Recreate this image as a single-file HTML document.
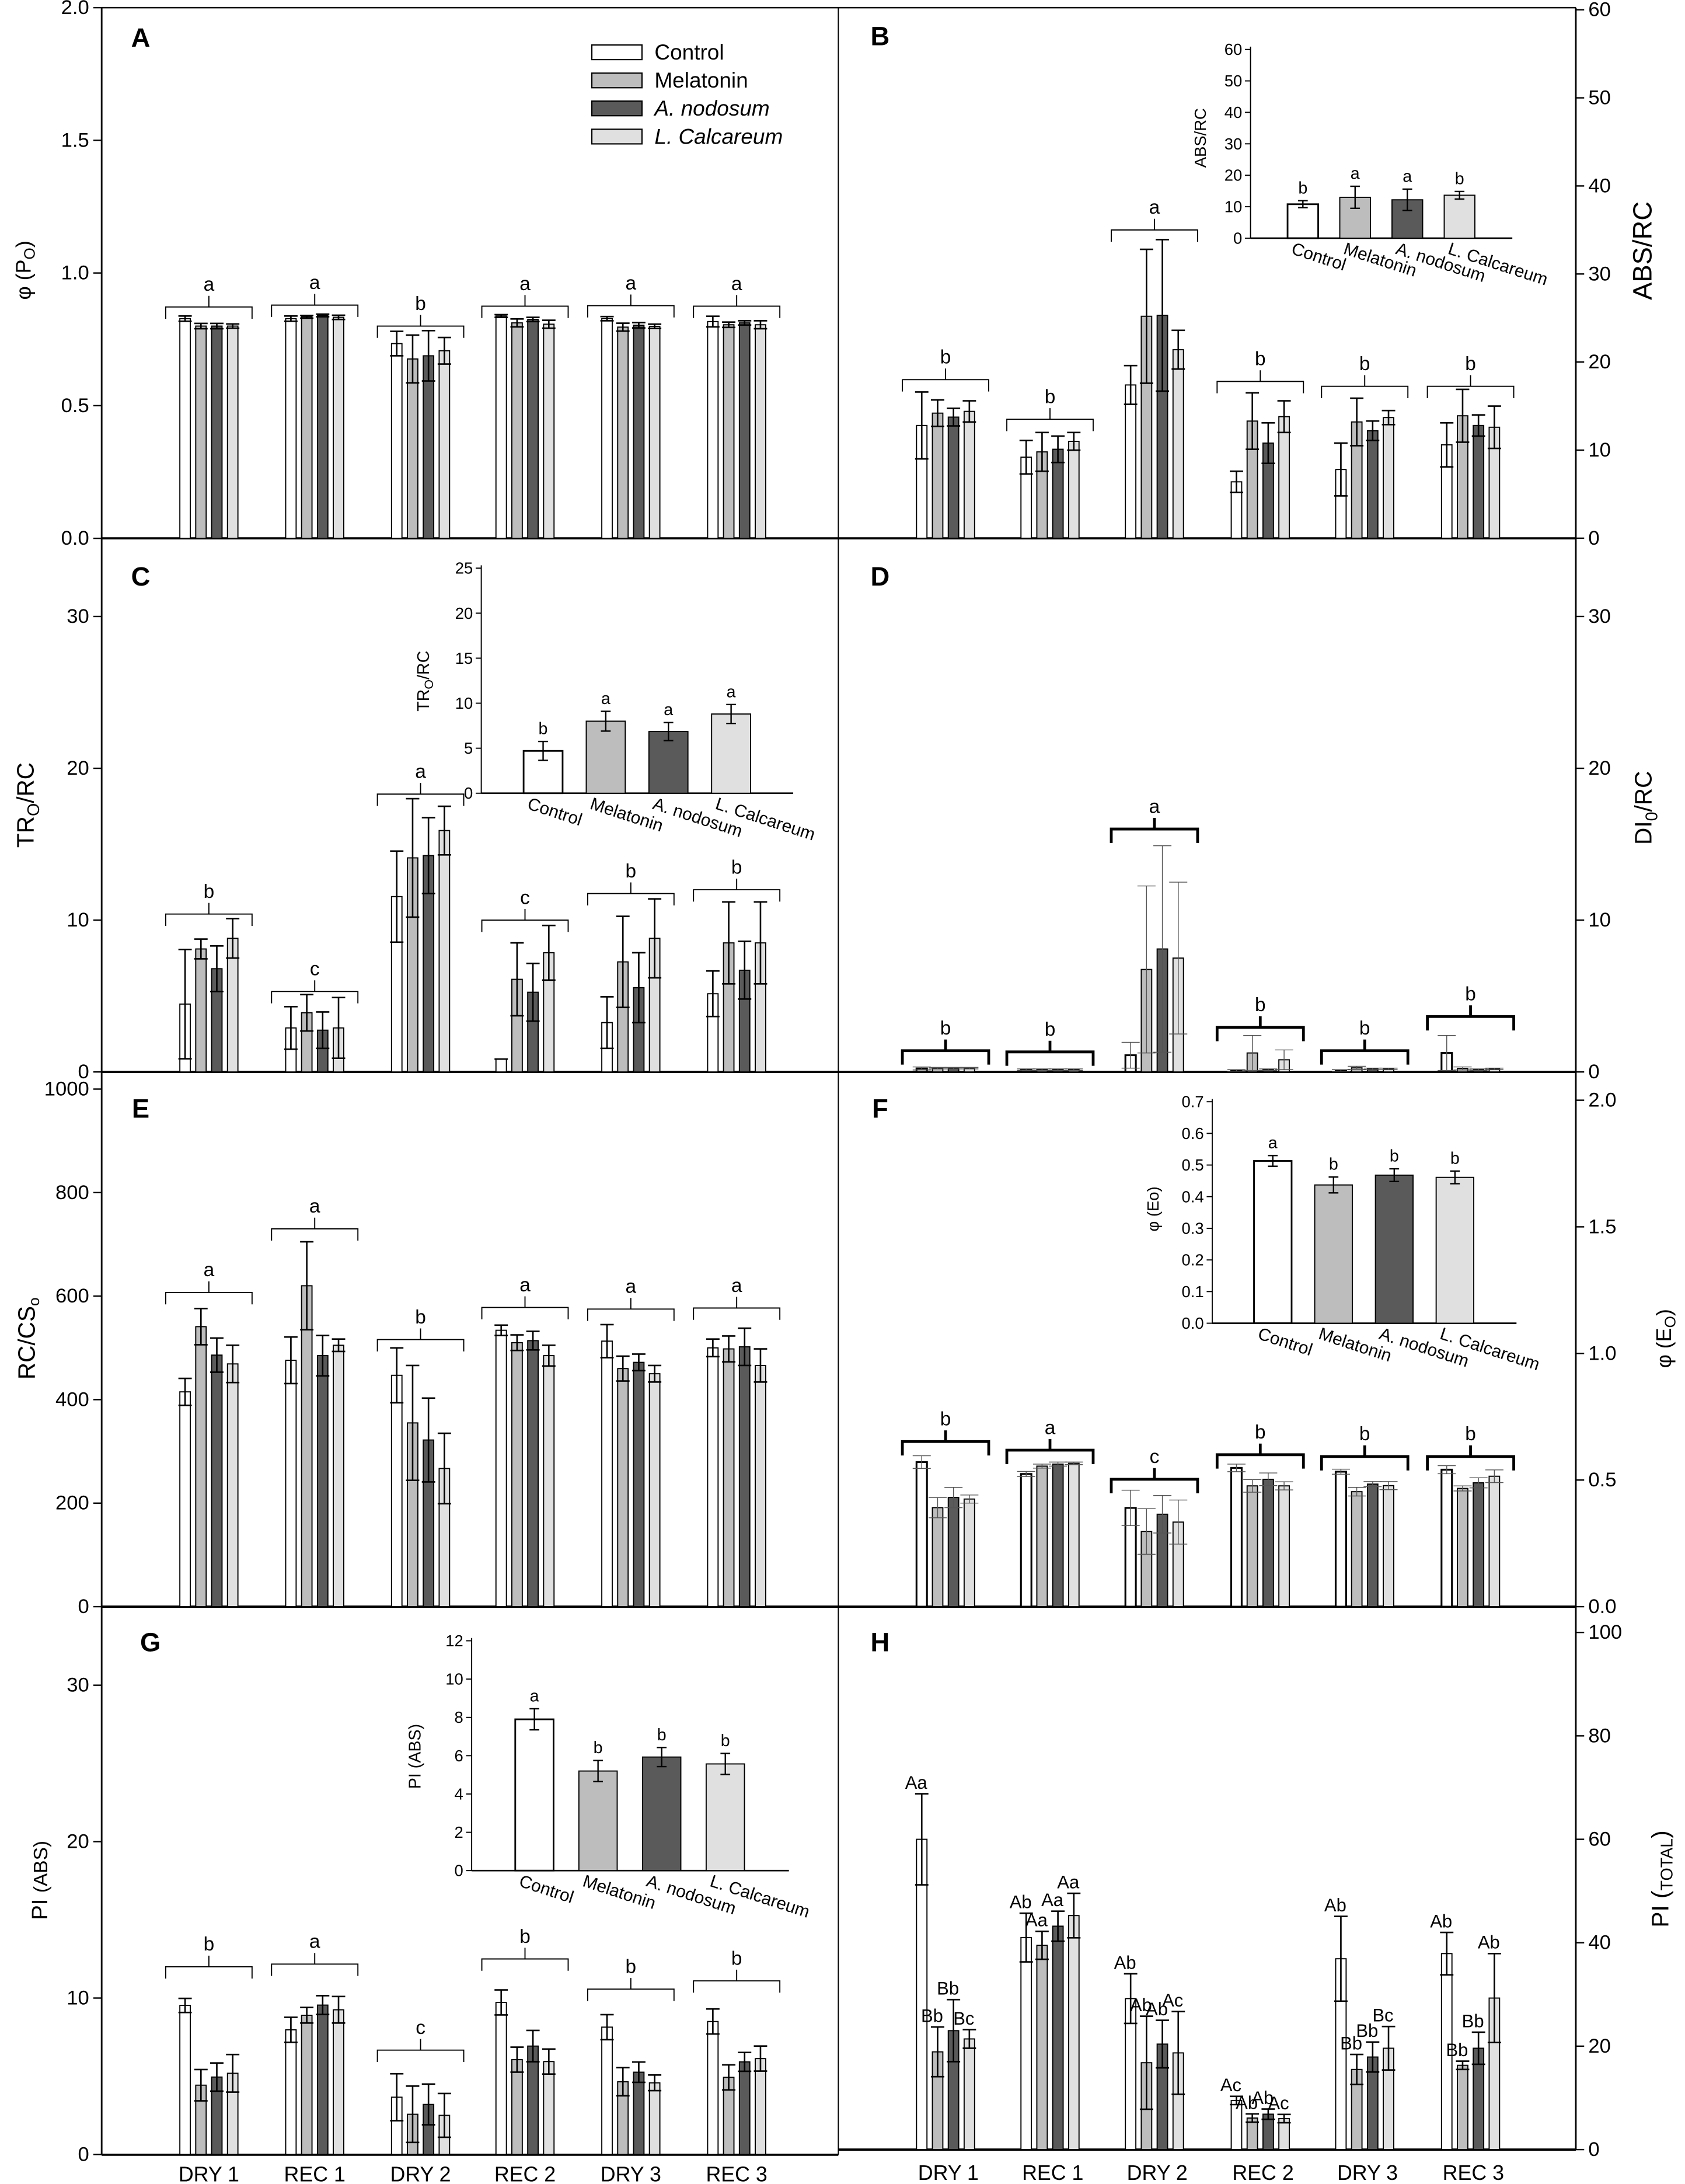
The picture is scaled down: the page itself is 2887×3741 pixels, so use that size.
<!DOCTYPE html>
<html><head><meta charset="utf-8"><title>Chlorophyll fluorescence parameters</title>
<style>
html,body{margin:0;padding:0;background:#fff;}
svg{display:block;font-family:"Liberation Sans Narrow","Liberation Sans",sans-serif;}
</style></head>
<body>
<svg id="chart" xmlns="http://www.w3.org/2000/svg" width="2887" height="3741" viewBox="0 0 1210 1568" preserveAspectRatio="none">
<rect x="0" y="0" width="1210" height="1568" fill="#fff"/>
</svg>
<script>
// ---------- shared categories ----------
const groups = ["DRY 1","REC 1","DRY 2","REC 2","DRY 3","REC 3"];
const treatments = ["Control","Melatonin","A. nodosum","L. Calcareum"];

// ---------- Panel A ----------
const aTicks = ["0.0","0.5","1.0","1.5","2.0"];
const aMean = [[0.828,0.828,0.734,0.838,0.828,0.817],[0.80,0.835,0.676,0.812,0.796,0.805],[0.80,0.84,0.688,0.825,0.803,0.812],[0.80,0.833,0.707,0.807,0.799,0.805]];
const aErr = [[0.01,0.01,0.046,0.005,0.008,0.02],[0.01,0.005,0.09,0.015,0.015,0.01],[0.01,0.005,0.095,0.008,0.01,0.008],[0.008,0.008,0.05,0.015,0.008,0.015]];
const aBracket = [0.872,0.879,0.80,0.875,0.877,0.875];
const aLetters = ["a","a","b","a","a","a"];

// ---------- Panel B ----------
const bTicks = ["0","10","20","30","40","50","60"];
const bMean = [[12.8,9.2,17.4,6.4,7.8,10.6],[14.2,9.8,25.2,13.3,13.2,13.9],[13.75,10.1,25.3,10.8,12.2,12.8],[14.4,11.0,21.4,13.8,13.7,12.6]];
const bErr = [[3.8,1.9,2.2,1.2,3.0,2.5],[1.5,2.2,7.6,3.2,2.7,3.0],[1.0,1.5,8.6,2.3,1.1,1.2],[1.2,1.0,2.2,1.8,0.8,2.4]];
const bBracket = [18,13.5,35,17.8,17.25,17.25];
const bLetters = ["b","b","a","b","b","b"];
const bInsetTicks = ["0","10","20","30","40","50","60"];
const bInsetMean = [10.8,13.0,12.2,13.65];
const bInsetErr = [1.1,3.5,3.4,1.2];
const bInsetLetters = ["b","a","a","b"];

// ---------- Panel C ----------
const cTicks = ["0","10","20","30"];
const cMean = [[4.47,2.9,11.55,0.85,3.25,5.15],[8.1,3.9,14.1,6.1,7.25,8.5],[6.8,2.75,14.25,5.25,5.55,6.7],[8.8,2.9,15.9,7.85,8.8,8.5]];
const cErr = [[3.6,1.4,3.0,0,1.7,1.5],[0.65,1.2,3.9,2.4,3.0,2.7],[1.5,1.2,2.5,1.9,2.3,1.9],[1.3,2.0,1.6,1.8,2.6,2.7]];
const cBracket = [10.4,5.3,18.3,10.0,11.75,12.0];
const cLetters = ["b","c","a","c","b","b"];
const cInsetTicks = ["0","5","10","15","20","25"];
const cInsetMean = [4.7,8.0,6.85,8.8];
const cInsetErr = [1.05,1.1,1.0,1.05];
const cInsetLetters = ["b","a","a","a"];

// ---------- Panel D ----------
const dTicks = ["0","10","20","30"];
const dMean = [[0.23,0.15,1.1,0.1,0.1,1.25],[0.25,0.15,6.75,1.25,0.27,0.23],[0.25,0.15,8.1,0.15,0.2,0.15],[0.25,0.15,7.5,0.8,0.2,0.2]];
const dErr = [[0.1,0.05,0.85,0.05,0.05,1.15],[0.05,0.05,5.5,1.15,0.1,0.1],[0.05,0.05,6.8,0.05,0.05,0.05],[0.05,0.05,5.0,0.65,0.05,0.05]];
const dBracket = [1.4,1.32,16,2.94,1.4,3.65];
const dLetters = ["b","b","a","b","b","b"];

// ---------- Panel E ----------
const eTicks = ["0","200","400","600","800","1000"];
const eMean = [[415,476,447,534,513,500],[541,620,355,510,460,498],[486,485,322,514,472,502],[469,505,267,485,450,466]];
const eErr = [[26,45,53,10,32,17],[35,85,111,15,24,25],[33,39,81,18,16,36],[36,12,68,20,16,32]];
const eBracket = [607,730,516,578,575,577];
const eLetters = ["a","a","b","a","a","a"];

// ---------- Panel F ----------
const fTicks = ["0.0","0.5","1.0","1.5","2.0"];
const fMean = [[0.571,0.524,0.39,0.548,0.533,0.541],[0.391,0.555,0.297,0.477,0.454,0.467],[0.431,0.563,0.365,0.503,0.484,0.489],[0.425,0.566,0.334,0.477,0.478,0.515]];
const fErr = [[0.025,0.01,0.07,0.015,0.01,0.016],[0.04,0.008,0.09,0.025,0.017,0.01],[0.04,0.008,0.074,0.025,0.01,0.02],[0.016,0.005,0.087,0.016,0.016,0.025]];
const fBracket = [0.652,0.618,0.503,0.60,0.593,0.593];
const fLetters = ["b","a","c","b","b","b"];
const fInsetTicks = ["0.0","0.1","0.2","0.3","0.4","0.5","0.6","0.7"];
const fInsetMean = [0.513,0.437,0.468,0.461];
const fInsetErr = [0.017,0.025,0.02,0.02];
const fInsetLetters = ["a","b","b","b"];

// ---------- Panel G ----------
const gTicks = ["0","10","20","30"];
const gMean = [[9.53,7.97,3.66,9.72,8.14,8.5],[4.43,8.9,2.57,6.06,4.65,4.93],[4.95,9.55,3.2,6.93,5.26,5.92],[5.19,9.25,2.5,5.94,4.58,6.13]];
const gErr = [[0.45,0.8,1.5,0.8,0.8,0.8],[1.0,0.5,1.8,0.8,0.9,0.8],[0.9,0.6,1.3,1.0,0.65,0.6],[1.2,0.85,1.4,0.8,0.5,0.8]];
const gBracket = [12.0,12.17,6.67,12.5,10.57,11.1];
const gLetters = ["b","a","c","b","b","b"];
const gInsetTicks = ["0","2","4","6","8","10","12"];
const gInsetMean = [7.9,5.2,5.93,5.57];
const gInsetErr = [0.55,0.55,0.5,0.55];
const gInsetLetters = ["a","b","b","b"];

// ---------- Panel H ----------
const hTicks = ["0","20","40","60","80","100"];
const hMean = [[60,41,29.2,9.5,36.9,37.9],[18.9,39.5,16.8,6.1,15.5,16.3],[23,43.2,20.4,6.85,17.9,19.6],[21.4,45.25,18.7,6.0,19.6,29.3]];
const hErr = [[8.8,4.7,4.8,0.8,8.2,4.1],[4.8,2.7,9,0.8,2.9,0.8],[6.0,2.9,4.6,1.0,2.9,3.1],[1.8,4.3,8,0.8,4.2,8.6]];
const hLabels = [["Aa","Ab","Ab","Ac","Ab","Ab"],["Bb","Aa","Ab","Ab","Bb","Bb"],["Bb","Aa","Ab","Ab","Bb","Bb"],["Bc","Aa","Ac","Ac","Bc","Ab"]];

// ---------- drawing ----------
const NS = "http://www.w3.org/2000/svg";
const svg = document.getElementById("chart");
const FILLS = ["#ffffff","#bdbdbd","#5a5a5a","#e0e0e0"];
const LEFT_CENTERS = [150,226,302,377,453,529];
const RIGHT_CENTERS = [679,754,829,905,980,1056];
const PITCH = 11.4, BW = 7.5;

function mk(tag, attrs, parent) {
  const e = document.createElementNS(NS, tag);
  for (const k in attrs) e.setAttribute(k, attrs[k]);
  (parent || svg).appendChild(e);
  return e;
}
function txt(parent, x, y, s, attrs) {
  const t = mk("text", Object.assign({x: x, y: y}, attrs || {}), parent);
  t.textContent = s;
  return t;
}

function drawPanel(p) {
  const g = mk("g", {});
  
  
  const ys = v => p.zero - v * p.ppu;
  // axis line
  const ax = mk("line", {x1: p.axisX, y1: p.top, x2: p.axisX, y2: p.zero, stroke: "#000", "stroke-width": 1.2}, g);
  
  
  // ticks
  p.ticks.forEach(lbl => {
    const v = parseFloat(lbl); const y = ys(v);
    const dir = p.side === "left" ? -1 : 1;
    mk("line", {x1: p.axisX, y1: y, x2: p.axisX + dir * 6, y2: y, stroke: "#000", "stroke-width": 1}, g);
    const t = txt(g, p.axisX + dir * 9, y, lbl, {"font-size": 14.5, "text-anchor": p.side === "left" ? "end" : "start", "dominant-baseline": "central"});
    
    
  });
  // bars
  for (let i = 0; i < 4; i++) {
    for (let j = 0; j < 6; j++) {
      const v = p.mean[i][j], e = p.err[i][j];
      const cx = p.centers[j] + (i - 1.5) * PITCH;
      const y = ys(v);
      const r = mk("rect", {x: cx - BW / 2, y: y, width: BW, height: p.zero - y, fill: FILLS[i], stroke: "#000", "stroke-width": (p.thin && i === 0) ? 1.3 : 0.8}, g);
      
      
      const col = p.thin ? "#555" : "#000", sw = p.thin ? 0.6 : 1.1, cw = p.thin ? 6.5 : 4.8;
      const yu = ys(v + e), yl = ys(Math.max(0, v - e));
      const eb = mk("path", {d: "M" + cx + "," + yl + "L" + cx + "," + yu + "M" + (cx - cw) + "," + yu + "L" + (cx + cw) + "," + yu + "M" + (cx - cw) + "," + yl + "L" + (cx + cw) + "," + yl, stroke: col, "stroke-width": sw, fill: "none"}, g);
      
      
      if (p.labels) {
        const lt = txt(g, cx - 4, yu - 8, p.labels[i][j], {"font-size": 13, "text-anchor": "middle", "dominant-baseline": "central"});
        
        
      }
    }
  }
  // brackets
  if (p.brackets) {
    p.brackets.forEach((bv, j) => {
      const cx = p.centers[j], yb = ys(bv), hw = 31, leg = p.thin ? 10 : 8.5;
      const br = mk("path", {d: "M" + (cx - hw) + "," + (yb + leg) + "L" + (cx - hw) + "," + yb + "L" + (cx + hw) + "," + yb + "L" + (cx + hw) + "," + (yb + leg) + "M" + cx + "," + yb + "L" + cx + "," + (yb - 8), stroke: "#000", "stroke-width": p.thin ? 2 : 0.8, fill: "none"}, g);
      
      
      const lt = txt(g, cx, yb - 16, p.letters[j], {"font-size": 14, "text-anchor": "middle", "dominant-baseline": "central"});
      
      
    });
  }
  // panel letter
  const pl = txt(g, p.letterX, p.letterY, p.letter, {"font-size": 19, "font-weight": "bold", "font-family": "Liberation Sans, sans-serif", "text-anchor": "middle", "dominant-baseline": "central"});
  
  
  return g;
}

function drawInset(p) {
  const g = mk("g", {});
  
  
  const max = parseFloat(p.ticks[p.ticks.length - 1]);
  const ys = v => p.base - v * (p.base - p.topY) / max;
  mk("line", {x1: p.x0, y1: p.topY - 2, x2: p.x0, y2: p.base, stroke: "#000", "stroke-width": 0.8}, g);
  const xa = mk("line", {x1: p.x0, y1: p.base, x2: p.x1, y2: p.base, stroke: "#000", "stroke-width": 1.1}, g);
  
  
  p.ticks.forEach(lbl => {
    const y = ys(parseFloat(lbl));
    mk("line", {x1: p.x0, y1: y, x2: p.x0 - 4, y2: y, stroke: "#000", "stroke-width": 0.8}, g);
    const t = txt(g, p.x0 - 6, y, lbl, {"font-size": 11.5, "text-anchor": "end", "dominant-baseline": "central"});
    
    
  });
  for (let i = 0; i < 4; i++) {
    const x = p.x0 + p.off + i * p.pitch, cx = x + p.bw / 2;
    const v = p.mean[i], e = p.err[i], y = ys(v);
    const r = mk("rect", {x: x, y: y, width: p.bw, height: p.base - y, fill: FILLS[i], stroke: "#000", "stroke-width": i === 0 ? 1.2 : 0.8}, g);
    
    
    const yu = ys(v + e), yl = ys(v - e);
    const eb = mk("path", {d: "M" + cx + "," + yl + "L" + cx + "," + yu + "M" + (cx - 3.5) + "," + yu + "L" + (cx + 3.5) + "," + yu + "M" + (cx - 3.5) + "," + yl + "L" + (cx + 3.5) + "," + yl, stroke: "#000", "stroke-width": 1, fill: "none"}, g);
    
    
    const lt = txt(g, cx, yu - 9, p.letters[i], {"font-size": 12, "text-anchor": "middle", "dominant-baseline": "central"});
    
    
    const lx = x + 2, ly = p.base + 11;
    const xl = txt(g, lx, ly, treatments[i], {"font-size": 12.5, "transform": "rotate(18 " + lx + " " + ly + ")", "font-style": i >= 2 ? "normal" : "normal"});
    
    
  }
  return g;
}

// frame lines
[[73,5.5,1131.6,5.5,1],[602,5.5,602,1547,0.8],[73,386.5,1131.6,386.5,1.6],[73,769.6,1131.6,769.6,1.6],[73,1153.5,1131.6,1153.5,1.6],[73,1547,602,1547,1.6],[602,1543.3,1131.6,1543.3,1.6]].forEach(l => {
  const ln = mk("line", {x1: l[0], y1: l[1], x2: l[2], y2: l[3], stroke: "#000", "stroke-width": l[4]});
  
  
});

drawPanel({name: "panel-a", side: "left", axisX: 73, top: 5.5, zero: 386.5, ppu: 190.5, ticks: aTicks, centers: LEFT_CENTERS, mean: aMean, err: aErr, brackets: aBracket, letters: aLetters, letter: "A", letterX: 101, letterY: 27});
drawPanel({name: "panel-b", side: "right", axisX: 1131.6, top: 5.5, zero: 386.4, ppu: 6.323, ticks: bTicks, centers: RIGHT_CENTERS, mean: bMean, err: bErr, brackets: bBracket, letters: bLetters, letter: "B", letterX: 632, letterY: 26});
drawPanel({name: "panel-c", side: "left", axisX: 73, top: 386.5, zero: 769.6, ppu: 10.9, ticks: cTicks, centers: LEFT_CENTERS, mean: cMean, err: cErr, brackets: cBracket, letters: cLetters, letter: "C", letterX: 101, letterY: 414});
drawPanel({name: "panel-d", side: "right", axisX: 1131.6, top: 386.5, zero: 769.6, ppu: 10.9, ticks: dTicks, centers: RIGHT_CENTERS, mean: dMean, err: dErr, brackets: dBracket, letters: dLetters, letter: "D", letterX: 632, letterY: 414, thin: true});
drawPanel({name: "panel-e", side: "left", axisX: 73, top: 769.6, zero: 1153.5, ppu: 0.3716, ticks: eTicks, centers: LEFT_CENTERS, mean: eMean, err: eErr, brackets: eBracket, letters: eLetters, letter: "E", letterX: 101, letterY: 796});
drawPanel({name: "panel-f", side: "right", axisX: 1131.6, top: 769.6, zero: 1153.5, ppu: 181.8, ticks: fTicks, centers: RIGHT_CENTERS, mean: fMean, err: fErr, brackets: fBracket, letters: fLetters, letter: "F", letterX: 632, letterY: 796, thin: true});
drawPanel({name: "panel-g", side: "left", axisX: 73, top: 1153.5, zero: 1546.8, ppu: 11.23, ticks: gTicks, centers: LEFT_CENTERS, mean: gMean, err: gErr, brackets: gBracket, letters: gLetters, letter: "G", letterX: 108, letterY: 1179});
drawPanel({name: "panel-h", side: "right", axisX: 1131.6, top: 1153.5, zero: 1543.3, ppu: 3.713, ticks: hTicks, centers: RIGHT_CENTERS, mean: hMean, err: hErr, labels: hLabels, letter: "H", letterX: 632, letterY: 1179});

drawInset({name: "inset-b", x0: 898, x1: 1086, base: 171, topY: 35.5, ticks: bInsetTicks, mean: bInsetMean, err: bInsetErr, letters: bInsetLetters, off: 26.6, pitch: 37.5, bw: 22});
drawInset({name: "inset-c", x0: 345.6, x1: 569.6, base: 569.5, topY: 407.9, ticks: cInsetTicks, mean: cInsetMean, err: cInsetErr, letters: cInsetLetters, off: 30.4, pitch: 45, bw: 28});
drawInset({name: "inset-f", x0: 870.5, x1: 1089, base: 950, topY: 791, ticks: fInsetTicks, mean: fInsetMean, err: fInsetErr, letters: fInsetLetters, off: 30, pitch: 43.6, bw: 27});
drawInset({name: "inset-g", x0: 338.7, x1: 566.5, base: 1343, topY: 1178, ticks: gInsetTicks, mean: gInsetMean, err: gInsetErr, letters: gInsetLetters, off: 31.3, pitch: 45.7, bw: 27.5});

// x category labels
groups.forEach((gname, j) => {
  const t1 = txt(svg, LEFT_CENTERS[j], 1561, gname, {"font-size": 15, "text-anchor": "middle", "dominant-baseline": "central"});
  
  
  const t2 = txt(svg, RIGHT_CENTERS[j] + 2, 1560, gname, {"font-size": 15, "text-anchor": "middle", "dominant-baseline": "central"});
  
  
});

// legend
const lg = mk("g", {});


[37.5, 57.7, 77.8, 98].forEach((cy, i) => {
  const r = mk("rect", {x: 425, y: cy - 5.2, width: 36, height: 10.5, fill: FILLS[i], stroke: "#000", "stroke-width": 0.9}, lg);
  
  
  const t = txt(lg, 470, cy, treatments[i], {"font-size": 15.5, "dominant-baseline": "central", "font-style": i >= 2 ? "italic" : "normal"});
  
  
});
</script>

<!-- axis titles (static text) -->
<svg style="position:absolute;left:0;top:0" width="2887" height="3741" viewBox="0 0 1210 1568" preserveAspectRatio="none">
<g font-family="Liberation Sans, sans-serif" fill="#000">
<text transform="translate(22,194) rotate(-90)" text-anchor="middle" font-size="15">φ (P<tspan font-size="11" dy="3">O</tspan><tspan dy="-3">)</tspan></text>
<text transform="translate(1186,180) rotate(-90)" text-anchor="middle" font-size="19">ABS/RC</text>
<text transform="translate(24,578) rotate(-90)" text-anchor="middle" font-size="17">TR<tspan font-size="12" dy="4">O</tspan><tspan dy="-4">/RC</tspan></text>
<text transform="translate(1186,580) rotate(-90)" text-anchor="middle" font-size="17">DI<tspan font-size="12" dy="4">0</tspan><tspan dy="-4">/RC</tspan></text>
<text transform="translate(25,961) rotate(-90)" text-anchor="middle" font-size="17">RC/CS<tspan font-size="11" dy="3">o</tspan></text>
<text transform="translate(1200,961) rotate(-90)" text-anchor="middle" font-size="15">φ (E<tspan font-size="11" dy="3">O</tspan><tspan dy="-3">)</tspan></text>
<text transform="translate(34,1350) rotate(-90)" text-anchor="middle" font-size="16">PI <tspan font-size="14">(ABS)</tspan></text>
<text transform="translate(1198,1349) rotate(-90)" text-anchor="middle" font-size="17">PI (<tspan font-size="12" dy="3">TOTAL</tspan><tspan dy="-3">)</tspan></text>
<text transform="translate(866,99) rotate(-90)" text-anchor="middle" font-size="11.5">ABS/RC</text>
<text transform="translate(308,489) rotate(-90)" text-anchor="middle" font-size="12">TR<tspan font-size="9" dy="3">O</tspan><tspan dy="-3">/RC</tspan></text>
<text transform="translate(832,868) rotate(-90)" text-anchor="middle" font-size="11.5">φ (Eo)</text>
<text transform="translate(302,1261) rotate(-90)" text-anchor="middle" font-size="12">PI (ABS)</text>
</g>
</svg>
</body></html>
